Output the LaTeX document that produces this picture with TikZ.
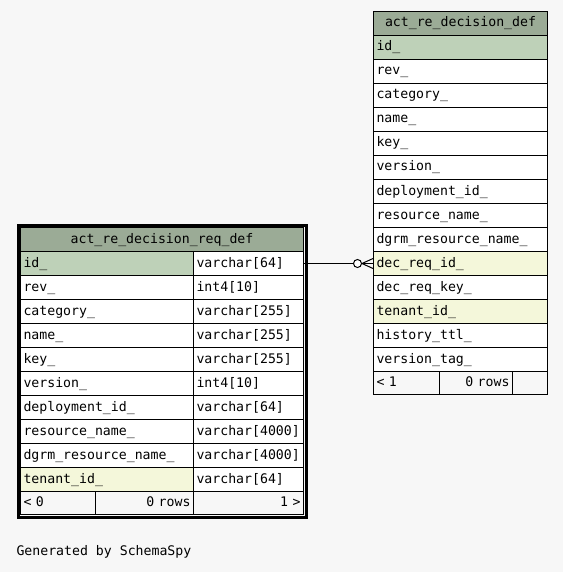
\documentclass[tikz,border=0pt]{standalone}
\usepackage{fontspec}
\newfontfamily\cellfont{DejaVu Sans Mono}
\usepackage{tikz}
\usetikzlibrary{positioning}
\usetikzlibrary{calc}
\usetikzlibrary{fit}
\definecolor{hdrgreen}{HTML}{9BAB96}
\definecolor{pkgreen}{HTML}{BED1B8}
\definecolor{fkyellow}{HTML}{F4F7DA}
\definecolor{bggray}{HTML}{F7F7F7}
\tikzset{
cell/.style={
  rectangle,
  draw=black,
  fill=white,
  anchor=north west,
  inner xsep=3pt,
  inner ysep=0pt,
  minimum height=24pt,
  text height=10pt,
  text depth=3pt,
  align=left,
  font=\cellfont\fontsize{13.2}{15}\selectfont
  },
hdr/.style={cell,fill=hdrgreen,align=center},
pk/.style={cell,fill=pkgreen},
fk/.style={cell,fill=fkyellow},
foot/.style={cell,fill=bggray,minimum height=23pt},
wd/.style={text width=168pt},
wn/.style={text width=167pt},
wt/.style={text width=104pt}
}

\begin{document}
\begin{tikzpicture}[x=1pt,y=-1pt,line width=1pt]
        \fill[bggray] (0,0) rectangle (563,572);
        \useasboundingbox (0,0) rectangle (563,572);
        % act_re_decision_def
        \node[hdr,wd] at (373,11) (dh) {act\_re\_decision\_def};
        \node[pk,wd] at (373,35) (d0) {id\_};
        \node[cell,wd] at (373,59) (d1) {rev\_};
        \node[cell,wd] at (373,83) (d2) {category\_};
        \node[cell,wd] at (373,107) (d3) {name\_};
        \node[cell,wd] at (373,131) (d4) {key\_};
        \node[cell,wd] at (373,155) (d5) {version\_};
        \node[cell,wd] at (373,179) (d6) {deployment\_id\_};
        \node[cell,wd] at (373,203) (d7) {resource\_name\_};
        \node[cell,wd] at (373,227) (d8) {dgrm\_resource\_name\_};
        \node[fk,wd] at (373,251) (d9) {dec\_req\_id\_};
        \node[cell,wd] at (373,275) (d10) {dec\_req\_key\_};
        \node[fk,wd] at (373,299) (d11) {tenant\_id\_};
        \node[cell,wd] at (373,323) (d12) {history\_ttl\_};
        \node[cell,wd] at (373,347) (d13) {version\_tag\_};
        \node[foot,text width=60pt] at (373,371) (df1) {< 1};
        \node[foot,text width=67pt,align=right] at (439,371) (df2) {0 rows};
        \node[foot,minimum width=35pt] at (512,371) (df3) {};
        % act_re_decision_req_def
        \node[hdr,text width=277pt] at (20,227) (rh) {act\_re\_decision\_req\_def};
        \node[pk,wn] at (20,251) (r0n) {id\_};
        \node[cell,wt] at (193,251) (r0t) {varchar[64]};
        \node[cell,wn] at (20,275) (r1n) {rev\_};
        \node[cell,wt] at (193,275) (r1t) {int4[10]};
        \node[cell,wn] at (20,299) (r2n) {category\_};
        \node[cell,wt] at (193,299) (r2t) {varchar[255]};
        \node[cell,wn] at (20,323) (r3n) {name\_};
        \node[cell,wt] at (193,323) (r3t) {varchar[255]};
        \node[cell,wn] at (20,347) (r4n) {key\_};
        \node[cell,wt] at (193,347) (r4t) {varchar[255]};
        \node[cell,wn] at (20,371) (r5n) {version\_};
        \node[cell,wt] at (193,371) (r5t) {int4[10]};
        \node[cell,wn] at (20,395) (r6n) {deployment\_id\_};
        \node[cell,wt] at (193,395) (r6t) {varchar[64]};
        \node[cell,wn] at (20,419) (r7n) {resource\_name\_};
        \node[cell,wt] at (193,419) (r7t) {varchar[4000]};
        \node[cell,wn] at (20,443) (r8n) {dgrm\_resource\_name\_};
        \node[cell,wt] at (193,443) (r8t) {varchar[4000]};
        \node[fk,wn] at (20,467) (r9n) {tenant\_id\_};
        \node[cell,wt] at (193,467) (r9t) {varchar[64]};
        \node[foot,text width=69pt] at (20,491) (rf1) {< 0};
        \node[foot,text width=92pt,align=right] at (95,491) (rf2) {0 rows};
        \node[foot,wt,align=right] at (193,491) (rf3) {1 >};
        \node[draw,line width=3pt,inner sep=2pt,fit=(rh)(rf3)] (req) {};
        % relation
        \node[circle,draw,fill=white,inner sep=0pt,minimum size=8pt,left=11pt of d9.west] (opt) {};
        \draw (r0t.east) -- (opt.west);
        \draw (opt.east) -- (d9.west);
        \draw (opt.east) -- ($(d9.west)+(0,-5)$);
        \draw (opt.east) -- ($(d9.west)+(0,5)$);
        \node[anchor=west,inner sep=0pt,font=\cellfont\fontsize{13.2}{15}\selectfont] at (16,552) (gen) {Generated by SchemaSpy};
\end{tikzpicture}
\end{document}
